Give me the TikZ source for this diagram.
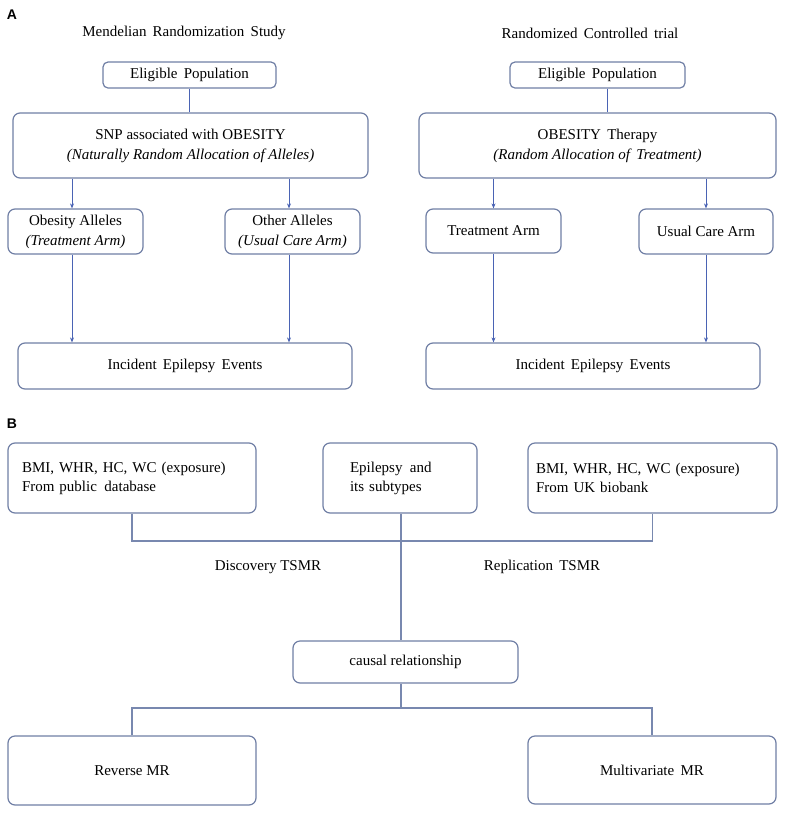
\documentclass[tikz,border=0pt]{standalone}
\usepackage{fontspec}
\setmainfont{Liberation Serif}
\newfontfamily\labfont{Liberation Sans}
\usetikzlibrary{arrows.meta,calc}
\definecolor{boxc}{RGB}{112,127,165}
\definecolor{arrc}{RGB}{74,99,180}
\definecolor{lnc}{RGB}{120,136,175}
\begin{document}
\begin{tikzpicture}[x=1pt,y=-1pt,
  box/.style={draw=boxc, line width=1.2pt, rounded corners=7pt, fill=white, font=\fontsize{15}{19}\selectfont, inner sep=2pt, align=center},
  sbox/.style={box, rounded corners=5pt},
  arr/.style={draw=arrc, line width=1pt, -{Stealth[length=5pt,width=4pt]}},
  ln/.style={draw=lnc, line width=1.1pt},
  ttl/.style={font=\fontsize{15}{19}\selectfont},
  plab/.style={font=\labfont\bfseries\fontsize{14}{16}\selectfont}]
\useasboundingbox (0,0) rectangle (787,815);
% ---------- Panel A ----------
\node[plab] (A) at (12,15) {A};
\node[ttl] (t1) at (184,33) {Mendelian\, Randomization\, Study};
\node[ttl] (t2) at (590,33) {Randomized\, Controlled\, trial};

\node[sbox, minimum width=173pt, minimum height=26pt] (ep1) at (189.5,75) {Eligible\, Population};
\node[box, minimum width=355pt, minimum height=65pt] (snp) at (190.5,145.5) {SNP associated with OBESITY\\[1pt]\textit{(Naturally Random Allocation of Alleles)}};
\node[box, minimum width=135pt, minimum height=45pt] (ob) at (75.5,231.5) {Obesity Alleles\\[1pt]\textit{(Treatment Arm)}};
\node[box, minimum width=135pt, minimum height=45pt] (oa) at (292.5,231.5) {Other Alleles\\[1pt]\textit{(Usual Care Arm)}};
\node[box, minimum width=334pt, minimum height=46pt] (inc1) at (185,366) {Incident\, Epilepsy\, Events};

\node[sbox, minimum width=175pt, minimum height=26pt] (ep2) at (597.5,75) {Eligible\, Population};
\node[box, minimum width=357pt, minimum height=65pt] (ot) at (597.5,145.5) {OBESITY\, Therapy\\[1pt]\textit{(Random Allocation of\, Treatment)}};
\node[box, minimum width=135pt, minimum height=44pt] (ta) at (493.5,231) {Treatment Arm};
\node[box, minimum width=134pt, minimum height=45pt] (uc) at (706,231.5) {Usual Care Arm};
\node[box, minimum width=334pt, minimum height=46pt] (inc2) at (593,366) {Incident\, Epilepsy\, Events};

\draw[arrc, line width=1pt] (ep1.south) -- (ep1.south |- snp.north);
\draw[arr] ([xshift=-3.5pt]ob.north |- snp.south) -- ([xshift=-3.5pt]ob.north);
\draw[arr] ([xshift=-3.5pt]oa.north |- snp.south) -- ([xshift=-3.5pt]oa.north);
\draw[arr] ([xshift=-3.5pt]ob.south) -- ([xshift=-3.5pt]ob.south |- inc1.north);
\draw[arr] ([xshift=-3.5pt]oa.south) -- ([xshift=-3.5pt]oa.south |- inc1.north);

\draw[arrc, line width=1pt] ([xshift=9.5pt]ep2.south) -- ([xshift=9.5pt]ep2.south |- ot.north);
\draw[arr] (ta.north |- ot.south) -- (ta.north);
\draw[arr] (uc.north |- ot.south) -- (uc.north);
\draw[arr] (ta.south) -- (ta.south |- inc2.north);
\draw[arr] (uc.south) -- (uc.south |- inc2.north);

% ---------- Panel B ----------
\node[plab] (B) at (12,424) {B};
\node[box, minimum width=248pt, minimum height=70pt, text width=220pt, inner xsep=14pt, align=left] (bmi1) at (132,478) {BMI, WHR, HC, WC (exposure)\\From public\, database};
\node[box, minimum width=154pt, minimum height=70pt, text width=100pt, inner xsep=27pt, align=left] (epi) at (400,478) {Epilepsy\, and\\its subtypes};
\node[box, minimum width=249pt, minimum height=70pt, text width=233pt, inner xsep=8pt, align=left] (bmi2) at (652.5,478) {BMI, WHR, HC, WC (exposure)\\From UK biobank};
\node[ttl] (dis) at (268,567) {Discovery TSMR};
\node[ttl] (rep) at (542,567) {Replication\, TSMR};
\node[box, minimum width=225pt, minimum height=42pt] (cr) at (405.5,662) {causal relationship};
\node[box, minimum width=248pt, minimum height=69pt] (rev) at (132,770.5) {Reverse MR};
\node[box, minimum width=248pt, minimum height=68pt] (mv) at (652,770) {Multivariate\, MR};

\coordinate (h1) at (401,541);
\coordinate (h2) at (401,708);
\draw[ln] (bmi1.south) |- (h1) -| (bmi2.south);
\draw[ln] (epi.south -| h1) -- (h1 |- cr.north);
\draw[ln] (h2 |- cr.south) -- (h2);
\draw[ln] (rev.north) |- (h2) -| (mv.north);
\end{tikzpicture}
\end{document}
